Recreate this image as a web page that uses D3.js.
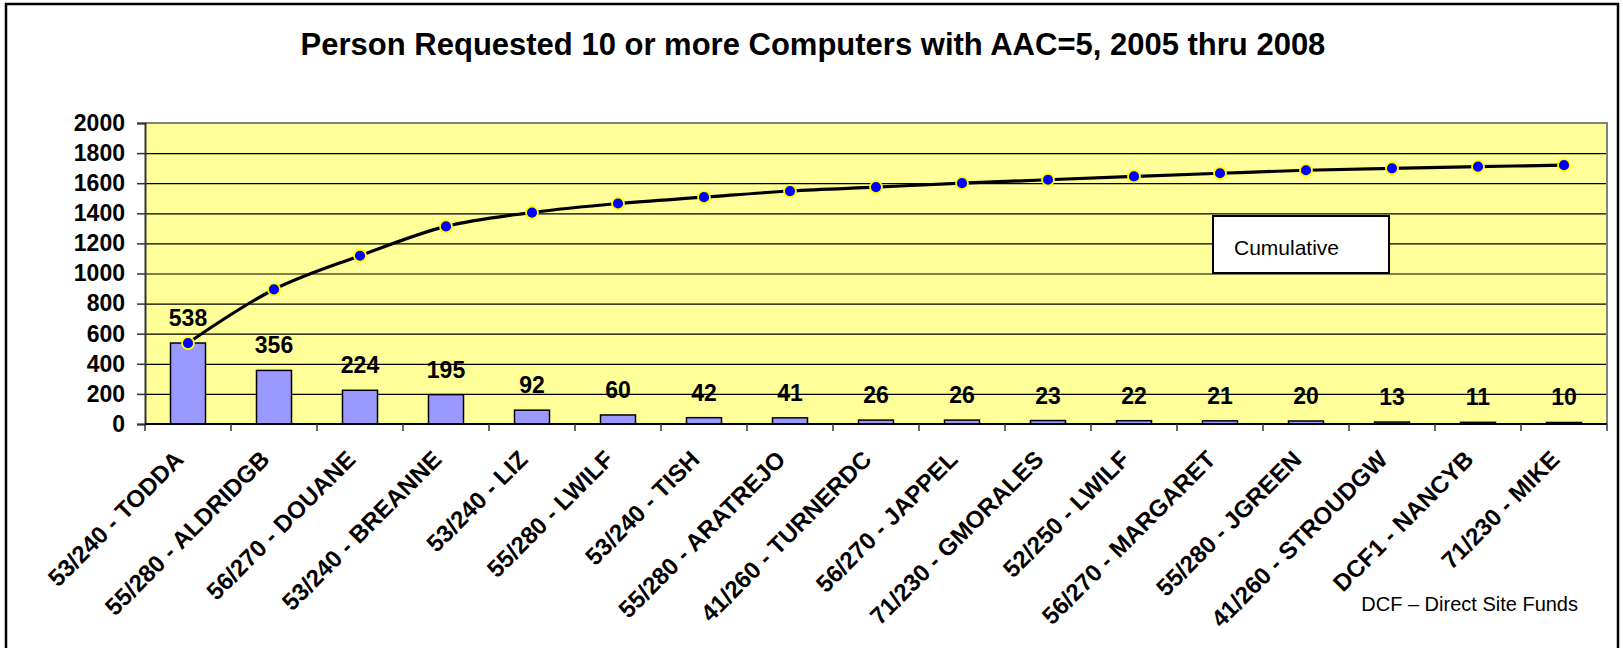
<!DOCTYPE html>
<html>
<head>
<meta charset="utf-8">
<script src="https://cdn.jsdelivr.net/npm/d3@7/dist/d3.min.js"></script>
<style>
  html, body { margin: 0; padding: 0; background: #fff; }
  svg { display: block; font-family: "Liberation Sans", Arial, sans-serif; }
</style>
</head>
<body>
<svg id="chart" width="1623" height="648"></svg>
<script>
const titleText = "Person Requested 10 or more Computers with AAC=5, 2005 thru 2008";
const categories = ["53/240 - TODDA","55/280 - ALDRIDGB","56/270 - DOUANE","53/240 - BREANNE","53/240 - LIZ","55/280 - LWILF","53/240 - TISH","55/280 - ARATREJO","41/260 - TURNERDC","56/270 - JAPPEL","71/230 - GMORALES","52/250 - LWILF","56/270 - MARGARET","55/280 - JGREEN","41/260 - STROUDGW","DCF1 - NANCYB","71/230 - MIKE"];
const counts = [538,356,224,195,92,60,42,41,26,26,23,22,21,20,13,11,10];
const cumulative = [538,894,1118,1313,1405,1465,1507,1548,1574,1600,1623,1645,1666,1686,1699,1710,1720];
const yTicks = [0,200,400,600,800,1000,1200,1400,1600,1800,2000];
const legendLabel = "Cumulative";
const noteText = "DCF \u2013 Direct Site Funds";

const svg = d3.select("#chart");
const plot = { left: 145, right: 1607, top: 123, bottom: 424 };

// outer frame
svg.append("rect").attr("x", 6).attr("y", 4).attr("width", 1612).attr("height", 660)
  .attr("fill", "#fff").attr("stroke", "#000").attr("stroke-width", 2.5);

// title
svg.append("text").attr("x", 813).attr("y", 55).attr("text-anchor", "middle")
  .attr("font-size", 31).attr("font-weight", "bold").text(titleText);

const x = d3.scaleBand().domain(categories).range([plot.left, plot.right]).padding(0);
const y = d3.scaleLinear().domain([0, 2000]).range([plot.bottom, plot.top]);
const bw = x.bandwidth();
const cx = d => x(d) + bw / 2;

// plot background
svg.append("rect").attr("x", plot.left).attr("y", plot.top)
  .attr("width", plot.right - plot.left).attr("height", plot.bottom - plot.top)
  .attr("fill", "#FFFF99");

// gridlines
svg.append("g").selectAll("line").data(yTicks.filter(t => t > 0 && t < 2000)).join("line")
  .attr("x1", plot.left).attr("x2", plot.right)
  .attr("y1", d => y(d) + 0.5).attr("y2", d => y(d) + 0.5)
  .attr("stroke", "#000").attr("stroke-width", 1.2);

// top & right border
svg.append("path")
  .attr("d", `M${plot.left},${plot.top}H${plot.right}V${plot.bottom}`)
  .attr("fill", "none").attr("stroke", "#808080").attr("stroke-width", 2);

// y axis
const yAxis = d3.axisLeft(y).tickValues(yTicks).tickFormat(d3.format("d")).tickSize(8).tickPadding(12);
const gy = svg.append("g").attr("transform", `translate(${plot.left},0)`).call(yAxis);
gy.select(".domain").attr("stroke", "#333").attr("stroke-width", 2);
gy.selectAll(".tick line").attr("stroke", "#333").attr("stroke-width", 1.5);
gy.selectAll(".tick text").attr("font-size", 23).attr("font-weight", "bold")
  .attr("fill", "#000").attr("font-family", "Liberation Sans, Arial, sans-serif");

// bars
svg.append("g").selectAll("rect").data(categories).join("rect")
  .attr("x", (d) => cx(d) - 17.5)
  .attr("width", 35)
  .attr("y", (d, i) => y(counts[i]))
  .attr("height", (d, i) => plot.bottom - y(counts[i]))
  .attr("fill", "#9999FF").attr("stroke", "#000").attr("stroke-width", 1.5);

// bar value labels
svg.append("g").selectAll("text").data(categories).join("text")
  .attr("x", d => cx(d))
  .attr("y", (d, i) => y(counts[i]) - 17)
  .attr("text-anchor", "middle").attr("font-size", 23).attr("font-weight", "bold")
  .text((d, i) => counts[i]);

// x axis
svg.append("line").attr("x1", plot.left).attr("x2", plot.right)
  .attr("y1", plot.bottom).attr("y2", plot.bottom)
  .attr("stroke", "#000").attr("stroke-width", 2);
const tickPos = categories.map(d => x(d)).concat([plot.right]);
svg.append("g").selectAll("line").data(tickPos).join("line")
  .attr("x1", d => d).attr("x2", d => d)
  .attr("y1", plot.bottom).attr("y2", plot.bottom + 7)
  .attr("stroke", "#333").attr("stroke-width", 1.5);

// x labels
svg.append("g").selectAll("text").data(categories).join("text")
  .attr("transform", d => `translate(${cx(d) - 3},${plot.bottom + 37}) rotate(-45)`)
  .attr("text-anchor", "end").attr("font-size", 24).attr("font-weight", "bold")
  .text(d => d);

// cumulative line
const line = d3.line().x((d, i) => cx(categories[i])).y(d => y(d)).curve(d3.curveCatmullRom);
svg.append("path").datum(cumulative).attr("d", line)
  .attr("fill", "none").attr("stroke", "#000").attr("stroke-width", 3.2);

svg.append("g").selectAll("circle").data(cumulative).join("circle")
  .attr("cx", (d, i) => cx(categories[i])).attr("cy", d => y(d)).attr("r", 6)
  .attr("fill", "#0000FF").attr("stroke", "#FFFF00").attr("stroke-width", 1.8);

// legend box
svg.append("rect").attr("x", 1213).attr("y", 216).attr("width", 176).attr("height", 57)
  .attr("fill", "#fff").attr("stroke", "#000").attr("stroke-width", 2);
svg.append("text").attr("x", 1234).attr("y", 255).attr("font-size", 21).text(legendLabel);

// note
svg.append("text").attr("x", 1578).attr("y", 611).attr("text-anchor", "end")
  .attr("font-size", 20).text(noteText);
</script>
</body>
</html>
